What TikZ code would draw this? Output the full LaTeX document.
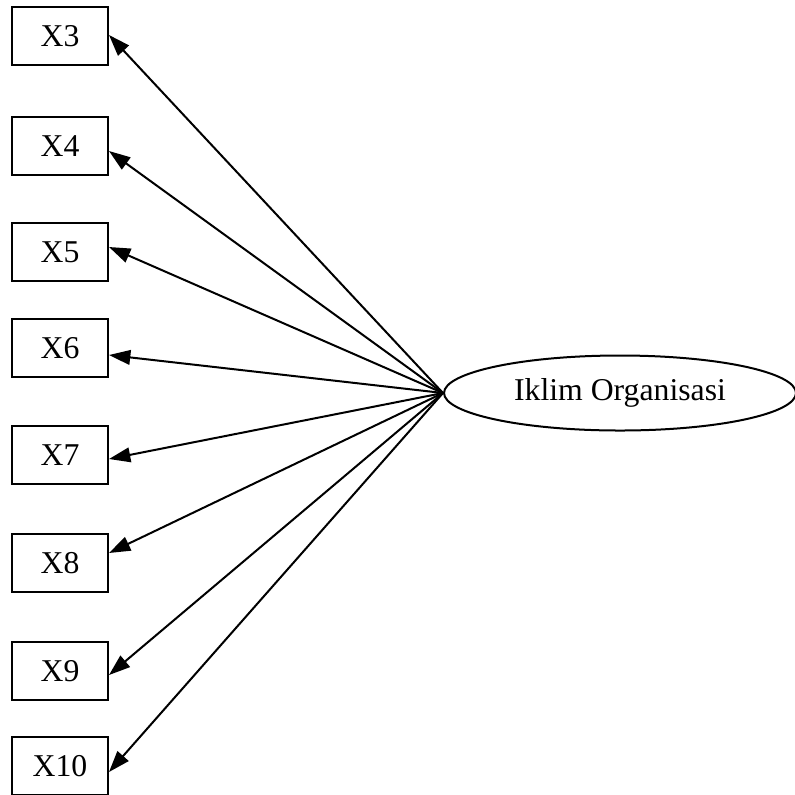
\documentclass[tikz,border=0pt]{standalone}
\usepackage{fontspec}
\setmainfont{Liberation Serif}
\usetikzlibrary{shapes.geometric,arrows.meta,calc}
\begin{document}
\begin{tikzpicture}[x=0.75pt,y=-0.75pt,
  every node/.style={font=\fontsize{23.8pt}{28pt}\selectfont},
  itembox/.style={draw,line width=1.5pt,minimum width=72pt,minimum height=43.5pt,inner sep=0pt},
  latent/.style={draw,ellipse,line width=1.5pt,minimum width=264pt,minimum height=56.25pt,inner sep=0pt},
  arr/.style={line width=1.5pt,-{Triangle[length=16pt,width=11pt]}}]
\useasboundingbox (0,0) rectangle (795,794);
% observed indicators
\node[itembox] (x3)  at (60,36)  {X3};
\node[itembox] (x4)  at (60,146) {X4};
\node[itembox] (x5)  at (60,252) {X5};
\node[itembox] (x6)  at (60,348) {X6};
\node[itembox] (x7)  at (60,455) {X7};
\node[itembox] (x8)  at (60,563) {X8};
\node[itembox] (x9)  at (60,671) {X9};
\node[itembox] (x10) at (60,766) {X10};
% latent construct
\node[latent] (io) at (620,393) {Iklim Organisasi};
% loadings
\draw[arr] (io.west) -- ($(x3.east)+(0,-1)$);
\draw[arr] (io.west) -- ($(x4.east)+(0,5)$);
\draw[arr] (io.west) -- ($(x5.east)+(0,-5)$);
\draw[arr] (io.west) -- ($(x6.east)+(0,7)$);
\draw[arr] (io.west) -- ($(x7.east)+(0,4)$);
\draw[arr] (io.west) -- ($(x8.east)+(0,-10)$);
\draw[arr] (io.west) -- ($(x9.east)+(0,4)$);
\draw[arr] (io.west) -- ($(x10.east)+(0,6)$);
\end{tikzpicture}
\end{document}
